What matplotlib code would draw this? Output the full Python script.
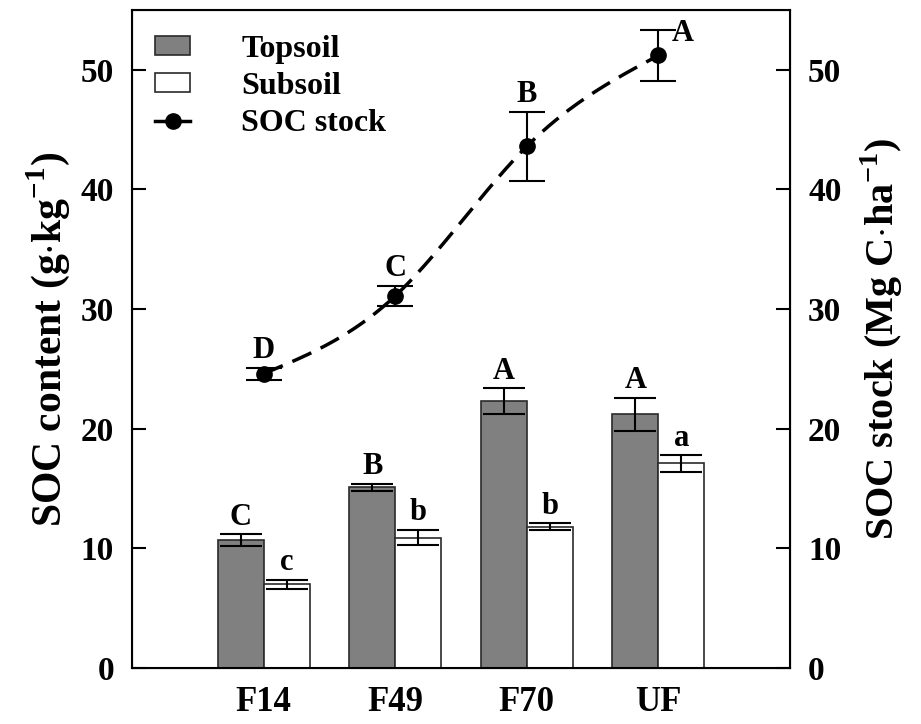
import numpy as np
import matplotlib
matplotlib.use("Agg")
import matplotlib.pyplot as plt
from matplotlib.patches import Patch
from matplotlib.lines import Line2D

plt.rcParams['font.family'] = ['Liberation Serif', 'DejaVu Serif']
plt.rcParams['font.weight'] = 'bold'
plt.rcParams['mathtext.fontset'] = 'custom'
plt.rcParams['mathtext.rm'] = 'Liberation Serif:bold'
plt.rcParams['mathtext.bf'] = 'Liberation Serif:bold'

categories = ["F14", "F49", "F70", "UF"]
topsoil = [10.7, 15.1, 22.3, 21.2]
topsoil_err = [0.5, 0.3, 1.1, 1.4]
subsoil = [7.0, 10.9, 11.8, 17.1]
subsoil_err = [0.38, 0.65, 0.3, 0.7]
stock = [24.6, 31.1, 43.6, 51.2]
stock_err = [0.5, 0.85, 2.9, 2.1]
top_letters = ["C", "B", "A", "A"]
sub_letters = ["c", "b", "b", "a"]
stock_letters = ["D", "C", "B", "A"]

fig = plt.figure(figsize=(9.21, 7.24), dpi=100)
ax = fig.add_axes([0.1433, 0.0773, 0.7145, 0.9089])
x = np.arange(1, len(categories) + 1)
w = 0.35

ax.bar(x - w / 2, topsoil, w, color='#808080', edgecolor='#2a2a2a', linewidth=1.2, zorder=2)
ax.bar(x + w / 2, subsoil, w, color='white', edgecolor='#2a2a2a', linewidth=1.2, zorder=2)
ax.errorbar(x - w / 2, topsoil, yerr=topsoil_err, fmt='none', ecolor='black', elinewidth=1.5, capsize=15, capthick=1.5, zorder=3)
ax.errorbar(x + w / 2, subsoil, yerr=subsoil_err, fmt='none', ecolor='black', elinewidth=1.5, capsize=15, capthick=1.5, zorder=3)

lfs = 22
for xi, v, e, t in zip(x - w / 2, topsoil, topsoil_err, top_letters):
    ax.text(xi, v + e + 0.2, t, ha='center', va='bottom', fontsize=lfs, fontweight='bold')
for xi, v, e, t in zip(x + w / 2, subsoil, subsoil_err, sub_letters):
    ax.text(xi, v + e + 0.2, t, ha='center', va='bottom', fontsize=lfs, fontweight='bold')

ax.set_xlim(0, 5)
ax.set_ylim(0, 55)
ax.set_xticks(x)
ax.set_xticklabels(categories, fontsize=25, fontweight='bold')
ax.tick_params(axis='x', length=0, pad=13)
ax.set_yticks([0, 10, 20, 30, 40, 50])
ax.tick_params(axis='y', direction='in', length=10, width=1.5, labelsize=24, pad=13)
for lab in ax.get_yticklabels():
    lab.set_fontweight('bold')
for s in ax.spines.values():
    s.set_linewidth(1.5)
ax.set_ylabel(r'SOC content (g$\cdot$kg$^{-1}$)', fontsize=30, fontweight='bold', labelpad=6)

ax2 = ax.twinx()
ax2.set_ylim(0, 55)
ax2.set_yticks([0, 10, 20, 30, 40, 50])
ax2.tick_params(axis='y', direction='in', length=10, width=1.5, labelsize=24, pad=13)
for lab in ax2.get_yticklabels():
    lab.set_fontweight('bold')

# smooth curve (natural cubic spline through the data points)
xs = x.astype(float)
ys = np.array(stock, dtype=float)
n = len(xs)
h = np.diff(xs)
A = np.zeros((n, n))
b = np.zeros(n)
A[0, 0] = 1
A[-1, -1] = 1
for i in range(1, n - 1):
    A[i, i - 1] = h[i - 1]
    A[i, i] = 2 * (h[i - 1] + h[i])
    A[i, i + 1] = h[i]
    b[i] = 3 * ((ys[i + 1] - ys[i]) / h[i] - (ys[i] - ys[i - 1]) / h[i - 1])
c = np.linalg.solve(A, b)
xx_all, yy_all = [], []
for i in range(n - 1):
    bi = (ys[i + 1] - ys[i]) / h[i] - h[i] * (2 * c[i] + c[i + 1]) / 3
    di = (c[i + 1] - c[i]) / (3 * h[i])
    t = np.linspace(0, h[i], 60)
    xx_all.append(xs[i] + t)
    yy_all.append(ys[i] + bi * t + c[i] * t ** 2 + di * t ** 3)
xx = np.concatenate(xx_all)
yy = np.concatenate(yy_all)
ax2.plot(xx, yy, color='black', lw=2.5, dashes=(6, 3), zorder=3)
ax2.errorbar(x, stock, yerr=stock_err, fmt='o', color='black', markersize=11, ecolor='black', elinewidth=1.5, capsize=13, capthick=1.5, zorder=4)
for xi, v, e, t in zip(x[:-1], stock[:-1], stock_err[:-1], stock_letters[:-1]):
    ax2.text(xi, v + e + 0.2, t, ha='center', va='bottom', fontsize=lfs, fontweight='bold')
ax2.text(x[-1] + 0.1, stock[-1] + stock_err[-1] - 0.3, stock_letters[-1], ha='left', va='center', fontsize=lfs, fontweight='bold')
ax2.set_ylabel(r'SOC stock (Mg C$\cdot$ha$^{-1}$)', fontsize=29, fontweight='bold', labelpad=12)

handles = [Patch(facecolor='#808080', edgecolor='#2a2a2a', linewidth=1.2),
           Patch(facecolor='white', edgecolor='#2a2a2a', linewidth=1.2),
           Line2D([0], [0], color='black', lw=2.5, marker='o', markersize=11)]
leg = ax2.legend(handles, ['Topsoil', 'Subsoil', 'SOC stock'], loc='upper left', frameon=False,
                 prop={'family': 'Liberation Serif', 'weight': 'bold', 'size': 23},
                 handlelength=1.1, handleheight=0.55, handletextpad=1.6, labelspacing=0.25,
                 borderpad=0, borderaxespad=0,
                 bbox_to_anchor=(0.035, 0.962))

fig.savefig('out.png', dpi=100)
